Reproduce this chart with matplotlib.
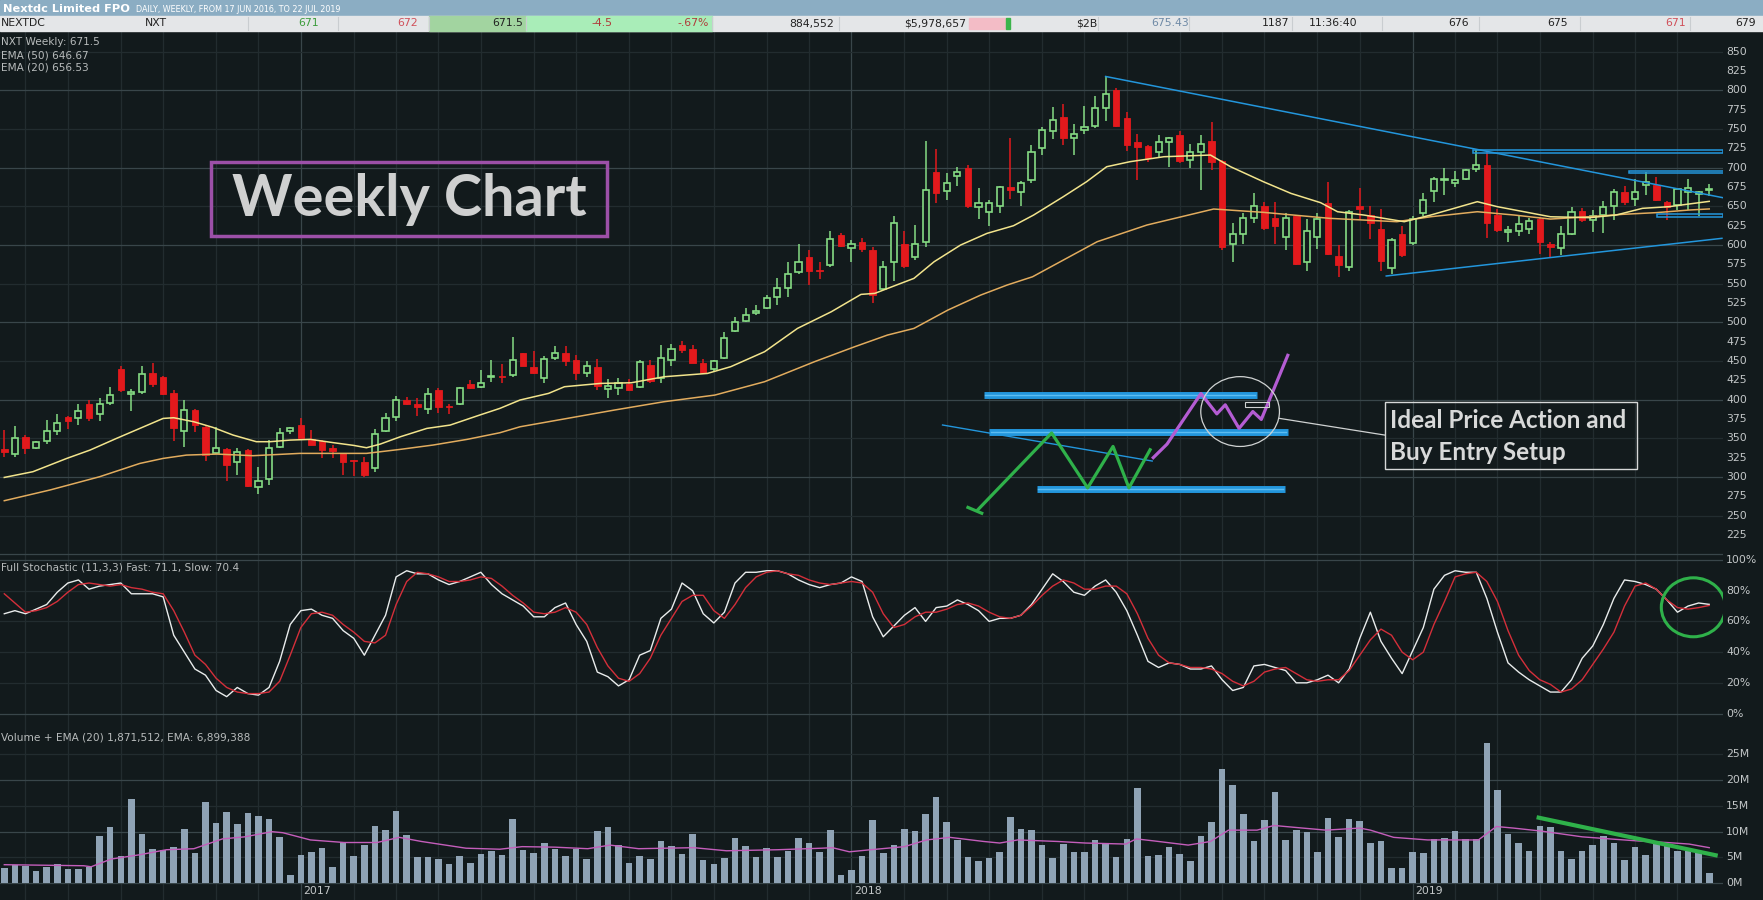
import numpy as np
import pandas as pd
import matplotlib
matplotlib.use("Agg")
import matplotlib.pyplot as plt
from matplotlib.patches import Rectangle, Ellipse
from matplotlib.transforms import blended_transform_factory

# =======================
# DATA (weekly NXT)
# =======================
START_WEEK = "2016-06-20"

open_px = [336, 330, 352, 337, 347, 359, 378, 377, 394, 381, 396, 440, 408, 410, 435, 429, 409, 359, 387, 365,
           331, 336, 320, 335, 287, 298, 339, 359, 367, 349, 346, 338, 331, 322, 320, 312, 360, 378, 400, 395,
           388, 412, 391, 394, 420, 416, 429, 431, 432, 460, 442, 428, 454, 460, 451, 435, 442, 414, 415, 420,
           417, 445, 428, 451, 471, 465, 448, 440, 454, 489, 502, 512, 518, 533, 545, 565, 584, 568, 574, 613,
           596, 604, 594, 543, 578, 601, 584, 604, 694, 670, 689, 700, 649, 643, 650, 675, 668, 684, 726, 747,
           765, 739, 749, 754, 777, 800, 764, 733, 728, 720, 733, 742, 710, 720, 734, 709, 601, 614, 635, 650,
           635, 611, 637, 578, 610, 655, 586, 571, 650, 639, 621, 570, 614, 603, 642, 670, 684, 680, 686, 698,
           704, 639, 617, 618, 621, 634, 602, 596, 614, 644, 632, 639, 650, 669, 659, 678, 678, 656, 652, 668,
           666, 671]
high_px = [361, 366, 354, 347, 374, 381, 379, 394, 399, 402, 417, 443, 414, 444, 448, 431, 412, 400, 388, 367,
           365, 337, 338, 336, 313, 348, 364, 365, 376, 361, 348, 342, 331, 322, 326, 362, 383, 405, 403, 402,
           415, 415, 395, 417, 426, 439, 452, 446, 481, 461, 463, 456, 469, 469, 458, 450, 453, 427, 428, 427,
           451, 451, 471, 472, 476, 471, 453, 451, 488, 507, 519, 523, 535, 557, 578, 601, 594, 578, 618, 615,
           606, 609, 597, 579, 637, 618, 626, 735, 724, 693, 701, 703, 674, 658, 677, 739, 683, 729, 753, 779,
           782, 757, 780, 793, 818, 803, 772, 743, 729, 742, 740, 747, 731, 742, 759, 710, 629, 641, 667, 656,
           656, 641, 639, 634, 641, 681, 600, 645, 674, 651, 647, 609, 624, 637, 667, 688, 699, 696, 698, 723,
           720, 647, 625, 637, 635, 636, 604, 625, 649, 648, 645, 657, 673, 677, 686, 695, 688, 657, 673, 685,
           670, 679]
low_px = [326, 326, 330, 336, 343, 354, 362, 367, 372, 372, 393, 410, 386, 408, 416, 406, 347, 339, 358, 321,
          330, 295, 302, 287, 278, 290, 338, 356, 350, 341, 325, 324, 303, 301, 300, 307, 358, 373, 393, 379,
          382, 383, 382, 393, 414, 415, 423, 421, 430, 443, 433, 422, 451, 443, 425, 430, 412, 402, 406, 411,
          415, 422, 421, 443, 461, 447, 434, 437, 453, 487, 501, 510, 517, 522, 533, 563, 548, 556, 571, 598,
          578, 591, 525, 542, 553, 570, 581, 598, 654, 658, 677, 648, 634, 624, 642, 660, 650, 680, 716, 737,
          729, 716, 744, 752, 760, 753, 721, 684, 707, 713, 701, 706, 699, 671, 697, 594, 578, 602, 628, 619,
          602, 594, 574, 566, 595, 587, 559, 566, 632, 608, 566, 563, 585, 600, 637, 656, 665, 675, 684, 695,
          609, 617, 604, 612, 614, 588, 585, 587, 613, 630, 617, 615, 632, 652, 650, 665, 657, 633, 645, 645,
          637, 663]
close_px = [333, 351, 337, 345, 360, 370, 372, 386, 377, 395, 406, 413, 410, 433, 420, 407, 363, 387, 367, 329,
            338, 315, 333, 288, 295, 337, 357, 364, 351, 342, 335, 334, 320, 321, 302, 356, 377, 399, 394, 390,
            408, 391, 390, 415, 415, 422, 430, 429, 452, 444, 434, 453, 461, 450, 434, 444, 418, 418, 421, 412,
            449, 424, 454, 466, 464, 448, 435, 450, 480, 500, 510, 515, 532, 544, 562, 578, 566, 566, 608, 599,
            602, 595, 536, 572, 629, 573, 601, 671, 667, 680, 695, 650, 654, 655, 675, 671, 680, 720, 749, 762,
            739, 744, 753, 777, 795, 754, 729, 727, 713, 733, 738, 709, 720, 731, 708, 597, 614, 635, 650, 622,
            624, 635, 576, 618, 634, 588, 574, 643, 647, 629, 579, 607, 587, 634, 658, 685, 685, 684, 697, 704,
            629, 619, 619, 627, 631, 604, 597, 614, 643, 633, 637, 649, 669, 656, 668, 682, 658, 649, 672, 674,
            669, 671.5]

# EMA lines (index, price) read at key points
ema20_idx = [0, 2.7, 5.9, 8.1, 10.6, 12.8, 15.0, 16.0, 17.9, 19.7, 21.6, 23.8, 25.1, 27.0, 28.9, 31.1, 33.0, 34.2,
             35.5, 37.4, 39.9, 42.1, 44.9, 46.8, 48.7, 51.4, 52.9, 56.3, 59.2, 62.3, 66.4, 68.6, 71.8, 74.9, 78.1,
             80.9, 82.2, 84.4, 85.9, 87.8, 90.3, 92.8, 95.3, 97.2, 100.0, 102.2, 104.1, 106.3, 109.5, 113.9, 115.8,
             118.9, 121.5, 124.3, 125.9, 128.4, 132.2, 134.7, 139.1, 141.0, 143.5, 146.0, 149.7, 152.2, 154.7, 157.2,
             159.1, 161.0]
ema20_val = [299.5, 306.9, 324.1, 334.9, 350.0, 362.9, 375.8, 376.7, 371.5, 364.2, 354.3, 345.7, 345.7, 347.8,
             348.7, 344.4, 340.9, 337.9, 342.6, 352.1, 362.9, 367.2, 380.2, 388.8, 399.6, 408.2, 416.8, 421.1,
             421.9, 429.7, 434.0, 442.7, 462.1, 492.2, 513.8, 536.2, 537.5, 549.1, 556.9, 578.4, 600.0, 615.1,
             625.0, 638.8, 662.5, 681.9, 701.3, 707.8, 714.2, 716.4, 701.3, 681.9, 666.8, 654.8, 643.1, 638.8,
             630.2, 638.8, 656.1, 649.6, 643.1, 636.6, 635.4, 638.8, 647.5, 649.6, 653.1, 656.5]
ema50_idx = [0, 4.3, 9.0, 12.8, 15.0, 17.2, 20.1, 23.5, 27.9, 31.1, 34.2, 37.4, 40.5, 43.7, 46.8, 48.7, 57.6,
             62.3, 67.1, 71.8, 76.5, 80.3, 83.4, 85.9, 89.1, 92.2, 94.7, 97.1, 103.2, 107.9, 114.2, 118.9, 125.2,
             131.5, 134.7, 139.1, 142.6, 146.0, 149.7, 152.8, 156.0, 159.1, 161.0]
ema50_val = [269.4, 283.2, 300.4, 317.6, 324.1, 328.4, 329.7, 327.6, 330.6, 330.6, 330.6, 335.8, 341.4, 348.7,
             357.3, 365.0, 386.6, 397.4, 406.0, 423.3, 449.1, 468.5, 483.6, 492.2, 515.9, 535.3, 548.3, 559.0,
             604.3, 625.9, 646.6, 642.3, 634.5, 630.2, 636.6, 643.1, 638.8, 633.6, 636.7, 639.7, 641.9, 645.3,
             646.7]

# Full stochastic (11,3,3)
stoch_fast = [65, 67, 65, 68, 71, 79, 85, 87, 81, 83, 84, 85, 78, 78, 78, 76, 51, 40, 29, 25,
              15, 11, 17, 13, 12, 17, 34, 58, 67, 68, 64, 62, 54, 49, 38, 51, 64, 89, 93, 91,
              91, 87, 84, 86, 89, 92, 84, 78, 74, 70, 63, 63, 69, 72, 58, 47, 27, 24, 18, 22,
              38, 41, 62, 68, 85, 80, 65, 59, 66, 85, 92, 92, 93, 93, 91, 87, 84, 82, 84, 85,
              89, 86, 63, 50, 57, 64, 69, 60, 69, 70, 74, 71, 67, 60, 62, 62, 64, 71, 81, 91,
              86, 79, 77, 83, 87, 79, 67, 51, 34, 30, 33, 32, 29, 29, 31, 22, 15, 17, 31, 32,
              30, 28, 20, 20, 22, 25, 20, 29, 49, 66, 47, 36, 26, 41, 56, 81, 90, 93, 92, 92,
              75, 53, 33, 27, 22, 18, 14, 14, 22, 36, 44, 58, 75, 87, 86, 84, 81, 74, 66, 70,
              72, 71.1]
stoch_slow = [78, 72, 66, 67, 69, 73, 79, 84, 85, 84, 83, 84, 82, 81, 79, 78, 67, 53, 38, 32,
              23, 17, 14, 13, 13, 14, 21, 38, 56, 65, 66, 64, 58, 53, 47, 46, 51, 71, 86, 92,
              91, 89, 86, 86, 87, 89, 88, 83, 77, 72, 66, 65, 66, 69, 66, 58, 43, 31, 23, 21,
              26, 36, 51, 62, 73, 77, 77, 67, 62, 71, 82, 89, 92, 93, 91, 90, 87, 85, 84, 85,
              86, 85, 79, 65, 56, 58, 63, 66, 66, 68, 71, 72, 70, 66, 63, 62, 64, 70, 77, 83,
              87, 85, 81, 81, 83, 83, 78, 65, 49, 38, 33, 32, 30, 30, 29, 26, 21, 18, 21, 27,
              29, 30, 26, 22, 21, 22, 22, 28, 38, 48, 55, 51, 40, 35, 40, 58, 73, 89, 91, 92,
              86, 73, 54, 38, 28, 22, 19, 14, 16, 22, 32, 42, 53, 70, 83, 85, 81, 74, 69, 68,
              69, 70.4]

# Volume in millions
volume_m = [3.0, 3.6, 3.4, 2.3, 3.2, 3.7, 2.8, 2.8, 3.2, 9.2, 10.9, 5.3, 16.3, 9.6, 6.7, 6.5, 7.0, 10.5, 5.9, 15.8,
            11.7, 13.8, 11.5, 13.6, 13.1, 12.5, 9.0, 1.6, 5.5, 6.1, 6.8, 3.2, 8.0, 5.3, 7.4, 11.1, 10.3, 14.0, 9.4, 5.1,
            5.1, 4.7, 3.7, 5.3, 4.0, 5.7, 6.3, 5.5, 12.5, 6.5, 5.9, 7.8, 6.7, 5.3, 6.7, 4.7, 10.1, 10.9, 7.4, 3.9,
            5.3, 4.7, 8.2, 7.2, 5.7, 9.6, 4.5, 3.7, 4.9, 8.8, 7.2, 5.1, 6.8, 5.1, 6.2, 8.8, 7.8, 6.1, 10.3, 1.6,
            2.6, 5.3, 12.3, 5.9, 7.4, 10.5, 10.1, 13.4, 16.7, 11.9, 8.4, 5.1, 4.3, 4.9, 6.1, 12.9, 10.5, 10.3, 7.4, 4.9,
            7.6, 6.1, 6.1, 8.4, 7.8, 5.1, 8.6, 18.5, 5.3, 5.5, 7.0, 5.7, 4.3, 9.2, 11.9, 22.2, 19.1, 13.4, 8.2, 12.3,
            17.7, 8.4, 10.3, 9.9, 6.1, 12.7, 9.0, 12.5, 12.1, 7.8, 8.2, 3.0, 3.0, 6.1, 5.9, 8.6, 8.8, 10.1, 8.6, 8.6,
            27.2, 18.1, 9.6, 7.8, 6.3, 11.1, 10.9, 6.3, 4.7, 6.3, 7.4, 9.2, 7.8, 4.5, 7.0, 5.5, 7.8, 7.6, 6.3, 6.3,
            5.9, 1.9]
vol_ema_idx = [0, 7.5, 8.2, 10.1, 12.7, 15.3, 17.9, 20.6, 22.7, 25.3, 26.3, 28.9, 32.1, 35.2, 37.3, 39.4, 43.6,
               46.8, 48.9, 52.0, 55.1, 57.2, 59.9, 65.1, 68.2, 73.0, 77.2, 78.2, 79.8, 81.8, 85.0, 87.1, 89.3,
               92.5, 94.0, 95.7, 99.5, 102.1, 105.9, 106.9, 108.6, 111.8, 113.9, 115.6, 118.3, 119.9, 122.6,
               124.8, 128.0, 129.0, 131.2, 134.4, 139.2, 140.9, 142.5, 145.2, 149.0, 151.6, 154.3, 157.0, 159.1,
               161.0]
vol_ema_val = [3.6, 3.4, 3.2, 4.7, 5.5, 6.5, 6.7, 8.6, 9.0, 10.0, 9.8, 8.4, 7.9, 7.9, 8.9, 8.1, 6.8, 6.6, 7.1,
               7.0, 6.7, 7.4, 6.7, 6.9, 6.3, 6.5, 6.8, 6.9, 6.1, 6.5, 7.1, 8.4, 8.9, 8.1, 7.8, 8.4, 8.1, 7.8, 7.6,
               8.6, 8.2, 7.4, 8.1, 10.3, 10.3, 11.2, 10.7, 10.3, 10.7, 10.3, 8.9, 8.4, 8.4, 11.0, 10.7, 10.1, 9.0,
               8.6, 8.2, 7.9, 7.6, 6.9]

# hand-drawn annotations (candle index, price)
trend_down_x = [104.0, 162.6]
trend_down_y = [818.0, 660.4]
trend_up_x = [130.5, 162.2]
trend_up_y = [560.0, 608.7]
zone_boxes = [(138.7, 162.3, 718.6, 723.0), (153.4, 162.4, 692.8, 696.1), (156.1, 162.3, 636.6, 639.7)]
level_bars = [(92.5, 118.3, 406.4), (93.0, 121.2, 358.6), (97.5, 120.9, 284.5)]
guide_x = [88.6, 108.4]
guide_y = [367.3, 320.7]
green_path_x = [91.9, 98.9, 102.3, 104.7, 106.2, 108.2]
green_path_y = [257.2, 357.0, 286.0, 339.6, 286.0, 335.3]
purple_path_x = [108.5, 109.8, 113.0, 114.5, 115.3, 116.6, 117.9, 118.7, 121.2]
purple_path_y = [325.1, 342.6, 408.0, 381.7, 393.4, 362.9, 384.7, 374.5, 457.4]
vol_trend_x = [144.7, 161.8]
vol_trend_y = [12.8, 5.35]

price_ticks = list(range(225, 851, 25))
stoch_ticks = [0, 20, 40, 60, 80, 100]
vol_ticks = [0, 5, 10, 15, 20, 25]

# =======================
# STYLE
# =======================
W, H = 1763, 900
BG = "#121a1c"
GRID = "#39464a"
GRID_MINOR = "#222c2f"
GREEN = "#86dc84"
RED = "#e3191c"
LABEL = "#c3c7c8"
NARROW = ["Liberation Sans Narrow", "DejaVu Sans"]
XR = (-0.406, 162.3)

plt.rcParams["font.family"] = NARROW

fig = plt.figure(figsize=(W / 100, H / 100), dpi=100, facecolor=BG)


def fpos(x, y):
    return x / W, 1 - y / H


def add_axes(top, bottom):
    ax = fig.add_axes([0, 1 - bottom / H, 1723 / W, (bottom - top) / H])
    ax.set_facecolor(BG)
    for s in ax.spines.values():
        s.set_visible(False)
    ax.tick_params(left=False, bottom=False, labelleft=False, labelbottom=False)
    ax.set_xlim(*XR)
    return ax


ax_p = add_axes(31, 556)
ax_s = add_axes(556, 718)
ax_v = add_axes(718, 900)
ax_p.set_ylim(197.9, 876.8)
ax_s.set_ylim(-2.9, 102.6)
ax_v.set_ylim(-3.24, 32.03)

# vertical grid: months faint, years brighter
dates = pd.date_range(START_WEEK, periods=len(close_px), freq="W-MON")
month_start = [i for i in range(1, len(dates)) if dates[i].month != dates[i - 1].month]
year_start = [i for i in month_start if dates[i].month == 1]
for ax in (ax_p, ax_s, ax_v):
    for i in month_start:
        ax.axvline(i, color=GRID if i in year_start else GRID_MINOR, lw=0.9, zorder=0)

for p in range(200, 851, 50):
    ax_p.axhline(p, color=GRID if p % 100 == 0 else GRID_MINOR, lw=0.9, zorder=0)
for v in stoch_ticks:
    ax_s.axhline(v, color=GRID if v in (0, 100) else GRID_MINOR, lw=0.9, zorder=0)
for v in vol_ticks:
    ax_v.axhline(v, color=GRID if v % 10 == 0 else GRID_MINOR, lw=0.9, zorder=0)

# ---- candles ----
o = np.array(open_px, float)
hgh = np.array(high_px, float)
low = np.array(low_px, float)
c = np.array(close_px, float)
idx = np.arange(len(c))
up = c >= o
lo = np.minimum(o, c)
bh = np.maximum(np.abs(c - o), 1.3)

ax_p.vlines(idx[up], low[up], hgh[up], color=GREEN, lw=1.1, zorder=3)
ax_p.vlines(idx[~up], low[~up], hgh[~up], color=RED, lw=1.1, zorder=3)
ax_p.bar(idx[up], bh[up], bottom=lo[up], width=0.58, facecolor=BG, edgecolor=GREEN, lw=1.2, zorder=4)
ax_p.bar(idx[~up], bh[~up], bottom=lo[~up], width=0.62, facecolor=RED, edgecolor=RED, lw=0.6, zorder=4)

ax_p.plot(ema50_idx, ema50_val, color="#e2ac5e", lw=1.1, zorder=5)
ax_p.plot(ema20_idx, ema20_val, color="#f2e48c", lw=1.1, zorder=5)

# ---- drawn annotations on price panel ----
BLUE = "#2396dc"
ax_p.plot(trend_down_x, trend_down_y, color=BLUE, lw=1.1, zorder=6)
ax_p.plot(trend_up_x, trend_up_y, color=BLUE, lw=1.1, zorder=6)
for x0, x1, y0, y1 in zone_boxes:
    ax_p.add_patch(Rectangle((x0, y0), x1 - x0, y1 - y0, fill=False, edgecolor=BLUE, lw=1.1, zorder=6))
for x0, x1, y in level_bars:
    ax_p.plot([x0, x1], [y, y], color=BLUE, lw=5, solid_capstyle="butt", zorder=6)
    ax_p.plot([x0 + 0.15, x1 - 0.15], [y, y], color="#5cbdf2", lw=1.0, zorder=7)
ax_p.plot(guide_x, guide_y, color=BLUE, lw=1.0, zorder=6)
ax_p.plot(green_path_x, green_path_y, color="#2fb14a", lw=2.3, zorder=7)
ax_p.plot([green_path_x[0] - 0.9, green_path_x[0] + 0.4], [green_path_y[0] + 3.5, green_path_y[0] - 4.0],
          color="#2fb14a", lw=2.3, zorder=7)
ax_p.plot(purple_path_x, purple_path_y, color="#b45cd3", lw=2.3, zorder=7)
ax_p.add_patch(Ellipse((116.7, 384.7), 7.43, 90.3, fill=False, edgecolor="#cfd2d2", lw=0.9, zorder=8))
ax_p.add_patch(Rectangle((117.2, 390.5), 2.2, 5.9, fill=False, edgecolor="#cfd2d2", lw=0.8, zorder=8))
ax_p.plot([120.4, 130.4], [375.9, 354.2], color="#cfd2d2", lw=0.9, zorder=8)

# ---- stochastic ----
ax_s.plot(idx, stoch_fast, color="#e9ecec", lw=1.0, zorder=3)
ax_s.plot(idx, stoch_slow, color="#d42f3a", lw=1.0, zorder=4)
ax_s.add_patch(Ellipse((159.5, 69.2), 6.05, 38.4, fill=False, edgecolor="#2fb14a", lw=2.2, zorder=5))

# ---- volume ----
ax_v.bar(idx, volume_m, width=0.62, color="#8fa3b5", zorder=2)
ax_v.plot(vol_ema_idx, vol_ema_val, color="#c45ebb", lw=1.0, zorder=3)
ax_v.plot(vol_trend_x, vol_trend_y, color="#2fb14a", lw=3, solid_capstyle="butt", zorder=4)

# right-hand labels
lab_x = 1726 / W
for p in price_ticks:
    ax_p.text(lab_x, p, str(p), transform=blended_transform_factory(fig.transFigure, ax_p.transData),
              color=LABEL, fontsize=7.8, va="center", ha="left")
for v in stoch_ticks:
    ax_s.text(lab_x, v, f"{v}%", transform=blended_transform_factory(fig.transFigure, ax_s.transData),
              color=LABEL, fontsize=7.8, va="center", ha="left")
for v in vol_ticks:
    ax_v.text(lab_x, v, f"{v}M", transform=blended_transform_factory(fig.transFigure, ax_v.transData),
              color=LABEL, fontsize=7.8, va="center", ha="left")

# year labels
for i in year_start:
    ax_v.text(i + 0.25, 1 - 891 / H, str(dates[i].year),
              transform=blended_transform_factory(ax_v.transData, fig.transFigure),
              color=LABEL, fontsize=7.8, va="center", ha="left")

# panel captions
for y, s in [(42, "NXT Weekly: 671.5"), (55, "EMA (50) 646.67"), (67, "EMA (20) 656.53"),
             (567, "Full Stochastic (11,3,3) Fast: 71.1, Slow: 70.4"),
             (738, "Volume + EMA (20) 1,871,512, EMA: 6,899,388")]:
    fig.text(*fpos(1, y), s, color="#b7bbbb", fontsize=7.6, va="center", ha="left")

# ---- header bars ----
fig.patches.append(Rectangle(fpos(0, 16), 1, 16 / H, transform=fig.transFigure, color="#8badc3", zorder=0))
fig.patches.append(Rectangle(fpos(0, 31), 1, 15 / H, transform=fig.transFigure, color="#e4e6e8", zorder=0))
fig.patches.append(Rectangle(fpos(428.6, 31), (525.5 - 428.6) / W, 15 / H, transform=fig.transFigure,
                             color="#a2d4a0", zorder=1))
fig.patches.append(Rectangle(fpos(525.5, 31), (711.7 - 525.5) / W, 15 / H, transform=fig.transFigure,
                             color="#a9edb8", zorder=1))
fig.patches.append(Rectangle(fpos(969, 29), 37 / W, 10.5 / H, transform=fig.transFigure,
                             color="#f3bcc6", zorder=1))
fig.patches.append(Rectangle(fpos(1006, 29), 4 / W, 10.5 / H, transform=fig.transFigure,
                             color="#3cb44b", zorder=1))
for xs in [248, 338, 428.6, 525.5, 711.7, 839, 1098, 1189, 1292, 1381.5, 1479, 1580, 1690]:
    fig.lines.append(plt.Line2D([xs / W, xs / W], [1 - 17 / H, 1 - 30 / H], transform=fig.transFigure,
                                color="#c9cdd0", lw=0.8))

title = fig.text(*fpos(3, 8.5), "Nextdc Limited FPO", color="white", fontsize=8.2, fontweight="bold",
                 va="center", ha="left")
fig.canvas.draw()
title_right = title.get_window_extent().x1
fig.text(title_right / W + 6 / W, 1 - 9 / H, "DAILY, WEEKLY, FROM 17 JUN 2016, TO 22 JUL 2019", color="white",
         fontsize=5.8, va="center", ha="left")

ticker_cells = [
    (1, "NEXTDC", "#222222", "left"), (145, "NXT", "#222222", "left"),
    (319, "671", "#3c9c3c", "right"), (418, "672", "#d0505a", "right"),
    (523, "671.5", "#222222", "right"), (612, "-4.5", "#b03a3a", "right"),
    (709, "-.67%", "#b03a3a", "right"), (834, "884,552", "#222222", "right"),
    (966, "$5,978,657", "#222222", "right"), (1097, "$2B", "#222222", "right"),
    (1189, "675.43", "#6f8aa6", "right"), (1289, "1187", "#222222", "right"),
    (1357, "11:36:40", "#222222", "right"), (1469, "676", "#222222", "right"),
    (1568, "675", "#222222", "right"), (1686, "671", "#d0505a", "right"),
    (1756, "679", "#222222", "right"),
]
for x, s, col, ha in ticker_cells:
    fig.text(*fpos(x, 23.5), s, color=col, fontsize=7.8, va="center", ha=ha)

# ---- text call-outs ----
fig.patches.append(Rectangle(fpos(211.4, 236.1), (607.2 - 211.4) / W, (236.1 - 161.9) / H,
                             transform=fig.transFigure, fill=False, edgecolor="#9c50a8", lw=2.5, zorder=9))
fig.text(*fpos(409, 200), "Weekly Chart", color="#cfd0d0", fontsize=41.5, fontweight="bold",
         family=["Lato", "DejaVu Sans"], va="center", ha="center", zorder=10)

fig.patches.append(Rectangle(fpos(1385.2, 469), (1637 - 1385.2) / W, (469 - 402) / H,
                             transform=fig.transFigure, fill=False, edgecolor="#d6d8d8", lw=1.0, zorder=9))
fig.text(*fpos(1390, 420), "Ideal Price Action and", color="#d8d9d9", fontsize=17.5, fontweight="bold",
         family=["Lato", "DejaVu Sans"], va="center", ha="left", zorder=10)
fig.text(*fpos(1390, 453), "Buy Entry Setup", color="#d8d9d9", fontsize=17.5, fontweight="bold",
         family=["Lato", "DejaVu Sans"], va="center", ha="left", zorder=10)

fig.savefig("out.png", dpi=100, facecolor=BG)
